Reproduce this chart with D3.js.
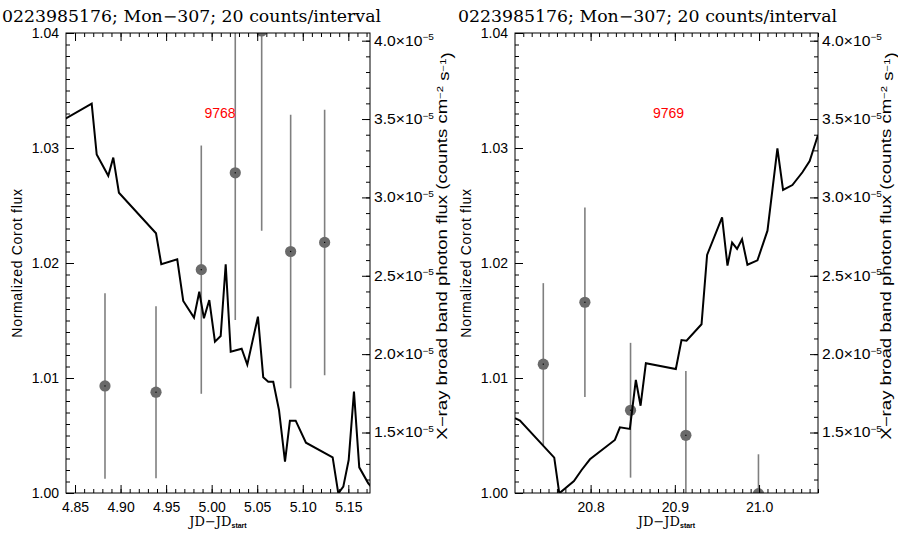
<!DOCTYPE html>
<html><head><meta charset="utf-8">
<script src="https://cdn.jsdelivr.net/npm/d3@7"></script>
<style>
body{margin:0;background:#fff}
svg{display:block}
.tick text{font-family:"Liberation Sans",Arial,sans-serif;font-size:14px;fill:#000}
</style></head><body>
<svg id="chart" width="898" height="536"></svg>
<script>
// Shared labels and axis ranges
const titleText = "0223985176; Mon\u2212307; 20 counts/interval";
const corotRange = [1.00, 1.04];
const corotTicks = [1.00, 1.01, 1.02, 1.03, 1.04];
const xrayRange = [1.114e-5, 4.049e-5];
const xrayTicks = [1.5e-5, 2.0e-5, 2.5e-5, 3.0e-5, 3.5e-5, 4.0e-5];

// Observation 9768
const label9768 = "9768";
const timeRange9768 = [4.8401, 5.1738];
const timeTicks9768 = [4.85, 4.90, 4.95, 5.00, 5.05, 5.10, 5.15];
const corotTime9768 = [4.8390, 4.8683, 4.8738, 4.8865, 4.8920, 4.8982, 4.9389, 4.9447, 4.9622, 4.9688,
  4.9806, 4.9864, 4.9915, 4.9974, 5.0036, 5.0099, 5.0154, 5.0209, 5.0329, 5.0391,
  5.0508, 5.0566, 5.0621, 5.0676, 5.0739, 5.0805, 5.0859, 5.0922, 5.1035, 5.1328,
  5.1390, 5.1445, 5.1504, 5.1562, 5.1620, 5.1719, 5.1745];
const corotFlux9768 = [1.03252, 1.03386, 1.02943, 1.02758, 1.02917, 1.02611, 1.02258, 1.01989, 1.02032, 1.01670,
  1.01525, 1.01750, 1.01519, 1.01678, 1.01316, 1.01365, 1.01989, 1.01229, 1.01255, 1.01116,
  1.01533, 1.01006, 1.00968, 1.00968, 1.00722, 1.00272, 1.00629, 1.00629, 1.00437, 1.00310,
  0.99997, 1.00055, 1.00287, 1.00881, 1.00223, 1.00084, 1.00060];
const xrayTime9768 = [4.8829, 4.9389, 4.9886, 5.0259, 5.0549, 5.0867, 5.1240];
const xrayRate9768 = [1.797e-5, 1.757e-5, 2.539e-5, 3.157e-5, 4.062e-5, 2.655e-5, 2.713e-5];
const xrayErr9768  = [0.592e-5, 0.549e-5, 0.792e-5, 0.939e-5, 1.275e-5, 0.872e-5, 0.847e-5];

// Observation 9769
const label9769 = "9769";
const timeRange9769 = [20.7102, 21.0700];
const timeTicks9769 = [20.8, 20.9, 21.0];
const corotTime9769 = [20.7102, 20.7161, 20.7568, 20.7628, 20.7802, 20.7893, 20.7992, 20.8288, 20.8348, 20.8466,
  20.8537, 20.8593, 20.8656, 20.9012, 20.9079, 20.9139, 20.9317, 20.9383, 20.9561, 20.9625,
  20.9680, 20.9739, 20.9798, 20.9862, 20.9981, 21.0100, 21.0218, 21.0285, 21.0396, 21.0515,
  21.0601, 21.0700];
const corotFlux9769 = [1.00650, 1.00629, 1.00307, 0.99997, 1.00104, 1.00200, 1.00293, 1.00461, 1.00571, 1.00557,
  1.00983, 1.00759, 1.01128, 1.01078, 1.01330, 1.01324, 1.01467, 1.02070, 1.02397, 1.01977,
  1.02177, 1.02122, 1.02206, 1.01985, 1.02023, 1.02281, 1.02997, 1.02635, 1.02678, 1.02789,
  1.02887, 1.03113];
const xrayTime9769 = [20.7438, 20.7932, 20.8474, 20.9131, 20.9993];
const xrayRate9769 = [1.936e-5, 2.331e-5, 1.642e-5, 1.482e-5, 1.110e-5];
const xrayErr9769  = [0.517e-5, 0.605e-5, 0.430e-5, 0.411e-5, 0.251e-5];

const svg = d3.select("#chart");
const plotTop = 33, plotBottom = 493;
const tickWide = 1.12;  // horizontal stretch of the X-ray tick lettering
const titleWide = 1.33; // horizontal stretch of the X-ray axis title

const panels = [
  {id: "p9768", left: 66, right: 370, titleX: 2, yTitleGap: 77, label: label9768, xDomain: timeRange9768, xTicks: timeTicks9768,
   cTime: corotTime9768, cFlux: corotFlux9768, xTime: xrayTime9768, xRate: xrayRate9768, xErr: xrayErr9768},
  {id: "p9769", left: 515, right: 818, titleX: 458, yTitleGap: 73, label: label9769, xDomain: timeRange9769, xTicks: timeTicks9769,
   cTime: corotTime9769, cFlux: corotFlux9769, xTime: xrayTime9769, xRate: xrayRate9769, xErr: xrayErr9769}
];

function minorValues(domain, step) {
  const out = [];
  const start = Math.ceil(domain[0] / step - 1e-6);
  const end = Math.floor(domain[1] / step + 1e-6);
  for (let i = start; i <= end; i++) out.push(+(i * step).toFixed(6));
  return out;
}

function sciLabel(sel, v) {
  const m = v / 1e-5;
  sel.text(null);
  sel.append("tspan").text(m.toFixed(1) + "\u00d710");
  sel.append("tspan").attr("dy", "-0.6em").attr("font-size", "9px").text("\u22125");
}

panels.forEach(p => {
  const g = svg.append("g").attr("id", p.id);
  const x = d3.scaleLinear().domain(p.xDomain).range([p.left, p.right]);
  const yC = d3.scaleLinear().domain(corotRange).range([plotBottom, plotTop]);
  const yX = d3.scaleLinear().domain(xrayRange).range([plotBottom, plotTop]);

  g.append("clipPath").attr("id", "clip-" + p.id)
    .append("rect").attr("x", p.left).attr("y", plotTop)
    .attr("width", p.right - p.left).attr("height", plotBottom - plotTop);

  const plot = g.append("g").attr("clip-path", `url(#clip-${p.id})`);

  // X-ray error bars and points
  const pts = p.xTime.map((t, i) => ({t, v: p.xRate[i], e: p.xErr[i]}));
  plot.selectAll("line.err").data(pts).join("line")
    .attr("class", "err")
    .attr("x1", d => x(d.t)).attr("x2", d => x(d.t))
    .attr("y1", d => yX(d.v - d.e)).attr("y2", d => yX(d.v + d.e))
    .attr("stroke", "#7f7f7f").attr("stroke-width", 1.6);
  plot.selectAll("circle.pt").data(pts).join("circle")
    .attr("class", "pt")
    .attr("cx", d => x(d.t)).attr("cy", d => yX(d.v)).attr("r", 5.6)
    .attr("fill", "#6a6a6a");
  plot.selectAll("rect.dot").data(pts).join("rect")
    .attr("class", "dot")
    .attr("x", d => x(d.t) - 0.6).attr("y", d => yX(d.v) - 0.6)
    .attr("width", 1.2).attr("height", 1.2).attr("fill", "#000");

  // CoRoT light curve
  const line = d3.line().x(d => x(d[0])).y(d => yC(d[1]));
  plot.append("path")
    .datum(p.cTime.map((t, i) => [t, p.cFlux[i]]))
    .attr("d", line).attr("fill", "none")
    .attr("stroke", "#000").attr("stroke-width", 2).attr("stroke-linejoin", "miter");

  // Axes: bottom (labelled), top (ticks only)
  const xMinor = minorValues(p.xDomain, 0.01);
  g.append("g").attr("transform", `translate(0,${plotBottom})`)
    .call(d3.axisBottom(x).tickValues(xMinor).tickSizeInner(-4).tickSizeOuter(0).tickFormat(""));
  g.append("g").attr("transform", `translate(0,${plotBottom})`)
    .call(d3.axisBottom(x).tickValues(p.xTicks).tickSizeInner(-8).tickSizeOuter(0).tickPadding(9)
      .tickFormat(d3.format(p.id === "p9768" ? ".2f" : ".1f")));
  g.append("g").attr("transform", `translate(0,${plotTop})`)
    .call(d3.axisTop(x).tickValues(xMinor).tickSizeInner(-4).tickSizeOuter(0).tickFormat(""));
  g.append("g").attr("transform", `translate(0,${plotTop})`)
    .call(d3.axisTop(x).tickValues(p.xTicks).tickSizeInner(-8).tickSizeOuter(0).tickFormat(""));

  // Left axis: CoRoT flux
  g.append("g").attr("transform", `translate(${p.left},0)`)
    .call(d3.axisLeft(yC).tickValues(minorValues(corotRange, 0.001)).tickSizeInner(-4).tickSizeOuter(0).tickFormat(""));
  g.append("g").attr("transform", `translate(${p.left},0)`)
    .call(d3.axisLeft(yC).tickValues(corotTicks).tickSizeInner(-8).tickSizeOuter(0).tickPadding(7)
      .tickFormat(d3.format(".2f")));

  // Right axis: X-ray flux
  g.append("g").attr("transform", `translate(${p.right},0)`)
    .call(d3.axisRight(yX).tickValues(minorValues([xrayRange[0] / 1e-5, xrayRange[1] / 1e-5], 0.1).map(v => v * 1e-5))
      .tickSizeInner(-4).tickSizeOuter(0).tickFormat(""));
  const ra = g.append("g").attr("transform", `translate(${p.right},0)`)
    .call(d3.axisRight(yX).tickValues(xrayTicks).tickSizeInner(-8).tickSizeOuter(0).tickPadding(4));
  ra.selectAll(".tick text").each(function(d) { sciLabel(d3.select(this), d); })
    .attr("x", 0).attr("transform", `translate(4,0) scale(${tickWide},1)`);

  g.selectAll(".domain").remove();
  g.selectAll(".tick line").attr("stroke", "#000").attr("stroke-width", 1);

  // Frame
  g.append("rect").attr("x", p.left).attr("y", plotTop)
    .attr("width", p.right - p.left).attr("height", plotBottom - plotTop)
    .attr("fill", "none").attr("stroke", "#000").attr("stroke-width", 1);

  // Title
  g.append("text").attr("x", p.titleX).attr("y", 22)
    .attr("font-family", "DejaVu Serif, serif").attr("font-size", "16px")
    .attr("textLength", 379).attr("lengthAdjust", "spacingAndGlyphs")
    .text(titleText);

  // Observation id
  g.append("text").attr("x", (p.left + p.right) / 2 + 2).attr("y", 118)
    .attr("text-anchor", "middle").attr("fill", "#ff0000")
    .attr("font-family", "Liberation Sans, Arial, sans-serif").attr("font-size", "14px")
    .text(p.label);

  // X axis title
  const xt = g.append("text").attr("x", (p.left + p.right) / 2).attr("y", 526)
    .attr("text-anchor", "middle").attr("font-family", "DejaVu Serif, serif").attr("font-size", "13px");
  xt.append("tspan").text("JD\u2212JD");
  xt.append("tspan").attr("dy", "0.25em").attr("font-size", "7px").attr("font-weight", "bold")
    .attr("font-family", "Liberation Sans, Arial, sans-serif").text("start");

  // Y axis titles
  g.append("text")
    .attr("transform", `translate(${p.left - 44},${(plotTop + plotBottom) / 2}) rotate(-90)`)
    .attr("text-anchor", "middle").attr("font-family", "Liberation Sans, Arial, sans-serif")
    .attr("font-size", "14px").attr("letter-spacing", "0.7px")
    .text("Normalized Corot flux");

  const yt = g.append("text")
    .attr("transform", `translate(${p.right + p.yTitleGap},${(plotTop + plotBottom) / 2 - 17}) rotate(-90) scale(${titleWide},1)`)
    .attr("text-anchor", "middle").attr("font-family", "Liberation Sans, Arial, sans-serif")
    .attr("font-size", "14px");
  yt.append("tspan").text("X\u2212ray broad band photon flux (counts cm");
  yt.append("tspan").attr("dy", "-0.45em").attr("font-size", "8.5px").text("\u22122");
  yt.append("tspan").attr("dy", "0.45em").text(" s");
  yt.append("tspan").attr("dy", "-0.45em").attr("font-size", "8.5px").text("\u22121");
  yt.append("tspan").attr("dy", "0.45em").text(")");
});
</script>
</body></html>
